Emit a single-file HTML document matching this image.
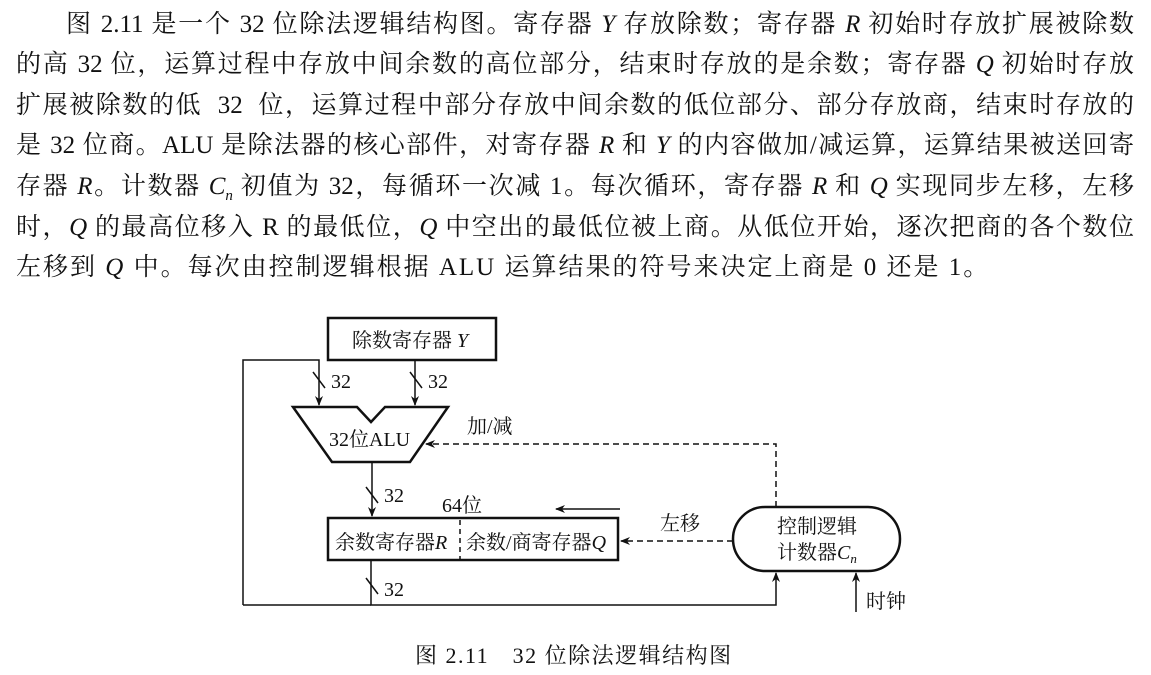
<!DOCTYPE html>
<html><head><meta charset="utf-8"><style>
body{margin:0;width:1151px;height:675px;background:#fff;position:relative;overflow:hidden;font-family:"Liberation Serif","Noto Serif CJK SC",serif;color:#111}
.l{position:absolute;left:16px;width:1118px;font-size:25px;line-height:30px;white-space:nowrap;text-align:justify;text-align-last:justify}
i{font-style:italic}
svg text{font-family:"Liberation Serif","Noto Serif CJK SC",serif;fill:#111}
</style></head><body>
<div class="l" style="top:10px;left:66px;width:1068px">图 2.11 是一个 32 位除法逻辑结构图。寄存器 <i>Y</i> 存放除数；寄存器 <i>R</i> 初始时存放扩展被除数</div>
<div class="l" style="top:50px">的高 32 位，运算过程中存放中间余数的高位部分，结束时存放的是余数；寄存器 <i>Q</i> 初始时存放</div>
<div class="l" style="top:91px">扩展被除数的低 &nbsp;32&nbsp; 位，运算过程中部分存放中间余数的低位部分、部分存放商，结束时存放的</div>
<div class="l" style="top:131px">是 32 位商。ALU 是除法器的核心部件，对寄存器 <i>R</i> 和 <i>Y</i> 的内容做加/减运算，运算结果被送回寄</div>
<div class="l" style="top:172px">存器 <i>R</i>。计数器 <i>C<sub style="font-size:15px">n</sub></i> 初值为 32，每循环一次减 1。每次循环，寄存器 <i>R</i> 和 <i>Q</i> 实现同步左移，左移</div>
<div class="l" style="top:213px">时，<i>Q</i> 的最高位移入 R 的最低位，<i>Q</i> 中空出的最低位被上商。从低位开始，逐次把商的各个数位</div>
<div class="l" style="top:253px;width:auto;text-align:left;text-align-last:left;letter-spacing:2px">左移到 <i>Q</i> 中。每次由控制逻辑根据 ALU 运算结果的符号来决定上商是 0 还是 1。</div>
<svg width="1151" height="675" style="position:absolute;left:0;top:0">
<defs><marker id="a" markerWidth="10" markerHeight="8" refX="9" refY="4" orient="auto" markerUnits="userSpaceOnUse"><path d="M0,0 L10,4 L0,8 L3,4z" fill="#111"/></marker></defs>
<g stroke="#111" fill="none" stroke-width="1.5">
<rect x="328" y="318" width="168" height="42" stroke-width="2.5"/>
<path d="M243,605 V360 H319 V405" marker-end="url(#a)"/>
<path d="M243,605 H371"/>
<path d="M415,360 V405" marker-end="url(#a)"/>
<path d="M293,407 H357 L371,422 L385,407 H448 L410,462 H332 Z" stroke-width="2.5"/>
<path d="M372,462 V516" marker-end="url(#a)"/>
<rect x="328" y="518" width="290" height="42" stroke-width="2.5"/>
<path d="M460,520 V560" stroke-dasharray="5,4"/>
<path d="M371,560 V605 H776 V573" marker-end="url(#a)"/>
<path d="M776,507 V444 H426" stroke-dasharray="6,4" marker-end="url(#a)"/>
<path d="M733,541 H621" stroke-dasharray="6,4" marker-end="url(#a)"/>
<path d="M620,509 H556" marker-end="url(#a)"/>
<path d="M856,612 V573" marker-end="url(#a)"/>
<rect x="733" y="507" width="167" height="64" rx="32" stroke-width="2.5"/>
<path d="M313,372 L325,388 M410,372 L422,388 M366,487 L378,503 M366,578 L378,594"/>
</g>
<g font-size="20">
<text x="352" y="347">除数寄存器 <tspan font-style="italic">Y</tspan></text>
<text x="331" y="388">32</text><text x="428" y="388">32</text>
<text x="329" y="446">32位ALU</text>
<text x="467" y="433">加/减</text>
<text x="384" y="502">32</text>
<text x="442" y="512">64位</text>
<text x="335" y="549">余数寄存器<tspan font-style="italic">R</tspan></text>
<text x="466" y="549">余数/商寄存器<tspan font-style="italic">Q</tspan></text>
<text x="660" y="530">左移</text>
<text x="777" y="533">控制逻辑</text>
<text x="777" y="559">计数器<tspan font-style="italic">C</tspan><tspan font-style="italic" font-size="13" dy="4">n</tspan></text>
<text x="384" y="596">32</text>
<text x="866" y="608">时钟</text>
<text x="415" y="663" font-size="22" letter-spacing="1.5">图 2.11　32 位除法逻辑结构图</text>
</g>
</svg>
</body></html>
